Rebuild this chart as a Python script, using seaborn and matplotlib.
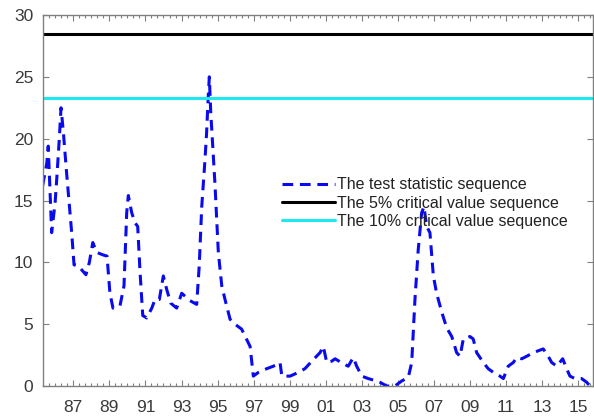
import matplotlib
matplotlib.use("Agg")
import matplotlib.pyplot as plt
import seaborn as sns
import pandas as pd
import numpy as np
from matplotlib.ticker import FixedLocator, MultipleLocator

# ---- data ----
years = [1985.30, 1985.53, 1985.61, 1985.80, 1985.99, 1986.08, 1986.22, 1986.32, 1986.45, 1986.63,
         1986.91, 1987.04, 1987.28, 1987.70, 1987.89, 1988.08, 1988.30, 1988.65, 1988.87, 1989.03,
         1989.20, 1989.59, 1989.81, 1989.96, 1990.05, 1990.24, 1990.42, 1990.57, 1990.70, 1990.85,
         1991.07, 1991.35, 1991.53, 1991.77, 1991.99, 1992.18, 1992.40, 1992.73, 1993.01, 1993.47,
         1993.84, 1993.98, 1994.12, 1994.30, 1994.39, 1994.48, 1994.54, 1994.62, 1994.71, 1994.85,
         1995.04, 1995.23, 1995.41, 1995.69, 1995.96, 1996.33, 1996.80, 1996.98, 1997.26, 1997.72,
         1998.09, 1998.46, 1998.56, 1999.02, 1999.47, 1999.84, 2000.22, 2000.68, 2000.86, 2001.05,
         2001.32, 2001.51, 2001.97, 2002.24, 2002.52, 2002.71, 2002.99, 2003.35, 2003.82, 2004.00,
         2004.37, 2004.83, 2005.20, 2005.57, 2005.76, 2005.94, 2006.12, 2006.31, 2006.44, 2006.59,
         2006.77, 2006.96, 2007.14, 2007.42, 2007.70, 2007.98, 2008.25, 2008.44, 2008.62, 2008.99,
         2009.17, 2009.36, 2009.73, 2010.00, 2010.38, 2010.65, 2010.84, 2011.11, 2011.39, 2011.58,
         2011.86, 2012.13, 2012.50, 2012.69, 2013.05, 2013.33, 2013.52, 2013.80, 2014.13, 2014.35,
         2014.53, 2014.81, 2015.18, 2015.46, 2015.64]
test_stat = [16.2, 18.0, 19.4, 12.4, 14.8, 16.7, 19.9, 22.5, 20.5, 17.2,
             12.4, 9.8, 9.7, 9.0, 10.0, 11.6, 10.8, 10.6, 10.5, 7.5,
             6.3, 6.5, 8.1, 14.0, 15.4, 14.0, 13.2, 12.9, 9.2, 5.7,
             5.5, 6.3, 7.0, 7.0, 8.9, 7.8, 6.7, 6.3, 7.5, 6.9,
             6.6, 9.7, 14.5, 18.3, 20.5, 23.4, 25.0, 22.1, 19.9, 16.4,
             10.8, 8.1, 7.0, 5.4, 5.0, 4.6, 3.2, 0.8, 1.1, 1.4,
             1.6, 1.9, 0.8, 0.8, 1.1, 1.4, 2.0, 2.7, 3.2, 1.9,
             2.0, 2.2, 1.8, 1.6, 2.3, 1.6, 0.8, 0.6, 0.4, 0.3,
             0.0, 0.0, 0.4, 0.7, 1.9, 7.0, 11.0, 14.0, 14.5, 12.9,
             12.4, 8.9, 7.5, 6.0, 4.7, 4.0, 2.7, 2.4, 3.8, 4.0,
             3.8, 2.7, 1.9, 1.4, 1.0, 0.8, 0.6, 1.6, 1.9, 2.3,
             2.2, 2.4, 2.7, 2.8, 3.0, 2.4, 1.9, 1.6, 2.2, 1.4,
             0.8, 0.6, 0.6, 0.3, 0.0]
crit5 = 28.5
crit10 = 23.3
tick_years = list(range(1987, 2016, 2))
tick_labels = ["87", "89", "91", "93", "95", "97", "99", "01", "03", "05", "07", "09", "11", "13", "15"]
y_ticks = [0, 5, 10, 15, 20, 25, 30]
labels = ["The test statistic sequence", "The 5% critical value sequence", "The 10% critical value sequence"]

df = pd.DataFrame({"year": years, "stat": test_stat})

sns.set_style("white")
plt.rcParams["font.family"] = ["Liberation Sans", "DejaVu Sans"]

fig = plt.figure(figsize=(5.94, 4.19), dpi=100)
ax = fig.add_axes([43 / 594, 33 / 419, 550 / 594, 371 / 419])

sns.lineplot(data=df, x="year", y="stat", ax=ax, color="#0a0aee", lw=2.2,
             linestyle=(0, (3.5, 2.2)), label=labels[0])
ax.axhline(crit5, color="black", lw=2.2, label=labels[1])
ax.axhline(crit10, color="#1ee8f2", lw=2.2, label=labels[2])

ax.set_xlim(1985.32, 2015.81)
ax.set_ylim(0, 30)
ax.xaxis.set_major_locator(FixedLocator(tick_years))
ax.set_xticks(tick_years)
ax.set_xticklabels(tick_labels)
ax.xaxis.set_minor_locator(MultipleLocator(1 / 3))
ax.set_yticks(y_ticks)
ax.set_xlabel("")
ax.set_ylabel("")

for s in ax.spines.values():
    s.set_color("#808080")
    s.set_linewidth(1.0)
ax.spines["right"].set_visible(True)

ax.tick_params(axis="both", which="major", direction="in", length=4, width=0.8,
               color="#808080", labelsize=12.5, labelcolor="#3a3a3a",
               top=True, right=True, bottom=True, left=True)
ax.tick_params(axis="x", which="major", pad=10)
ax.tick_params(axis="y", which="major", pad=7)
ax.tick_params(axis="x", which="minor", direction="in", length=2, width=0.8,
               color="#808080", top=True, bottom=True)

leg = ax.legend(loc="upper left", bbox_to_anchor=(0.435, 0.562), frameon=False,
                fontsize=11.5, handlelength=3.3, handletextpad=0.1,
                labelspacing=0.2, borderpad=0, borderaxespad=0)
for t in leg.get_texts():
    t.set_color("#222222")

fig.savefig("out.png", dpi=100)
